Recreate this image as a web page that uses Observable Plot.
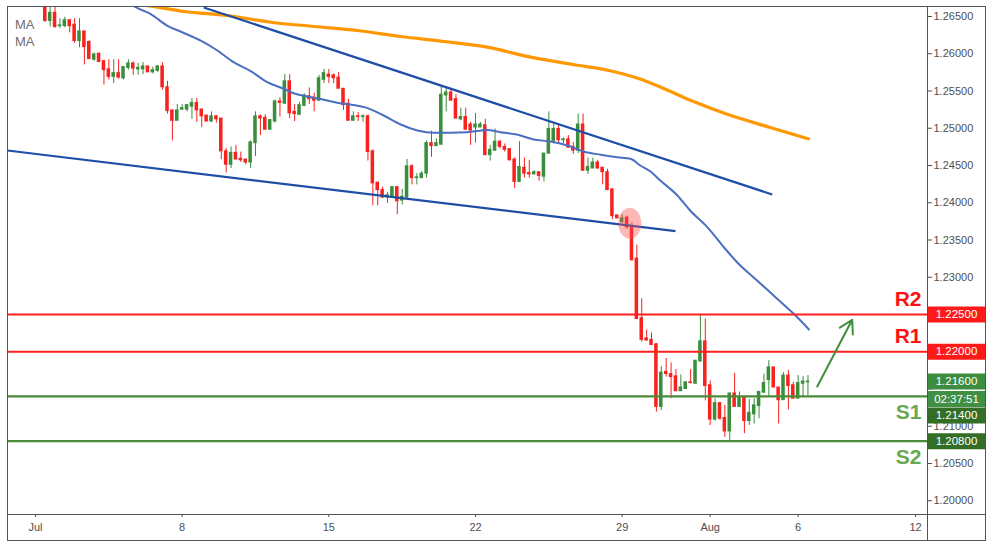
<!DOCTYPE html>
<html><head><meta charset="utf-8">
<script src="https://cdn.jsdelivr.net/npm/d3@7"></script>
<script src="https://cdn.jsdelivr.net/npm/@observablehq/plot@0.6"></script>
<style>
html,body{margin:0;padding:0;background:#fff;}
#wrap{position:relative;width:991px;height:546px;font-family:"Liberation Sans",Arial,sans-serif;}
#wrap svg{display:block;position:absolute;left:0;top:0;}
.ln{position:absolute;background:#50535e;}
.ma{position:absolute;left:15px;font-size:13px;color:#6f6f6f;line-height:13px;}
</style></head><body><div id="wrap"></div>
<script>
// ---- data (4-hour bars; bar 0 = Jul 1 00:00) ----
const firstBar = 2;
const opens = [
1.2667,1.2644,1.2655,1.2637,1.2637,1.2645,1.2639,1.2617,1.2630,1.2616,
1.2592,1.2600,1.2590,1.2579,1.2569,1.2574,1.2567,1.2581,1.2587,1.2579,
1.2579,1.2583,1.2575,1.2577,1.2583,1.2555,1.2524,1.2510,1.2525,1.2525,
1.2529,1.2534,1.2525,1.2517,1.2509,1.2516,1.2513,1.2469,1.2451,1.2467,
1.2459,1.2458,1.2454,1.2480,1.2516,1.2514,1.2498,1.2509,1.2536,1.2533,
1.2563,1.2522,1.2518,1.2530,1.2543,1.2541,1.2537,1.2565,1.2572,1.2571,
1.2568,1.2553,1.2533,1.2510,1.2516,1.2515,1.2516,1.2469,1.2427,1.2417,
1.2407,1.2407,1.2421,1.2403,1.2407,1.2449,1.2433,1.2433,1.2439,1.2480,
1.2476,1.2478,1.2544,1.2548,1.2539,1.2512,1.2515,1.2505,1.2501,1.2501,
1.2504,1.2464,1.2470,1.2482,1.2475,1.2472,1.2458,1.2428,1.2447,1.2440,
1.2438,1.2441,1.2435,1.2466,1.2483,1.2499,1.2484,1.2485,1.2475,1.2470,
1.2505,1.2443,1.2446,1.2454,1.2447,1.2441,1.2418,1.2383,1.2374,1.2380,
1.2367,1.2325,1.2245,1.2218,1.2216,1.2210,1.2126,1.2173,1.2170,1.2167,
1.2147,1.2150,1.2159,1.2157,1.2187,1.2214,1.2155,1.2109,1.2131,1.2111,
1.2093,1.2144,1.2126,1.2139,1.2107,1.2116,1.2127,1.2145,1.2162,1.2179,
1.2152,1.2135,1.2168,1.2155,1.2137,1.2157,1.2159];
const highs = [
1.2672,1.2662,1.2662,1.2647,1.2649,1.2645,1.2647,1.2647,1.2630,1.2617,
1.2601,1.2601,1.2591,1.2592,1.2592,1.2592,1.2583,1.2592,1.2589,1.2587,
1.2588,1.2583,1.2582,1.2584,1.2588,1.2563,1.2524,1.2532,1.2532,1.2531,
1.2540,1.2540,1.2526,1.2517,1.2522,1.2517,1.2513,1.2473,1.2475,1.2477,
1.2468,1.2458,1.2483,1.2522,1.2518,1.2518,1.2511,1.2538,1.2541,1.2572,
1.2572,1.2532,1.2535,1.2546,1.2554,1.2547,1.2571,1.2579,1.2579,1.2573,
1.2575,1.2553,1.2539,1.2522,1.2521,1.2518,1.2518,1.2471,1.2427,1.2421,
1.2414,1.2421,1.2421,1.2418,1.2458,1.2451,1.2439,1.2442,1.2483,1.2496,
1.2486,1.2557,1.2555,1.2552,1.2545,1.2527,1.2527,1.2508,1.2520,1.2508,
1.2512,1.2477,1.2499,1.2483,1.2479,1.2472,1.2460,1.2482,1.2460,1.2457,
1.2443,1.2441,1.2466,1.2522,1.2506,1.2504,1.2487,1.2490,1.2481,1.2519,
1.2519,1.2460,1.2460,1.2457,1.2447,1.2445,1.2418,1.2383,1.2384,1.2382,
1.2373,1.2343,1.2271,1.2229,1.2225,1.2211,1.2180,1.2191,1.2185,1.2176,
1.2169,1.2159,1.2176,1.2188,1.2249,1.2244,1.2161,1.2137,1.2132,1.2128,
1.2144,1.2171,1.2146,1.2139,1.2136,1.2137,1.2147,1.2170,1.2188,1.2179,
1.2152,1.2172,1.2175,1.2159,1.2168,1.2167,1.2168];
const lows = [
1.2642,1.2636,1.2634,1.2634,1.2635,1.2628,1.2614,1.2608,1.2585,1.2592,
1.2590,1.2588,1.2558,1.2565,1.2560,1.2566,1.2565,1.2578,1.2571,1.2571,
1.2572,1.2575,1.2573,1.2575,1.2551,1.2519,1.2483,1.2510,1.2524,1.2522,
1.2512,1.2508,1.2501,1.2509,1.2508,1.2507,1.2458,1.2440,1.2446,1.2458,
1.2454,1.2451,1.2446,1.2462,1.2490,1.2498,1.2498,1.2507,1.2515,1.2532,
1.2513,1.2509,1.2518,1.2530,1.2532,1.2522,1.2536,1.2560,1.2560,1.2560,
1.2553,1.2524,1.2510,1.2510,1.2509,1.2508,1.2456,1.2396,1.2396,1.2406,
1.2399,1.2407,1.2384,1.2397,1.2406,1.2424,1.2424,1.2433,1.2433,1.2461,
1.2476,1.2477,1.2522,1.2537,1.2513,1.2510,1.2497,1.2477,1.2480,1.2501,
1.2463,1.2456,1.2469,1.2472,1.2468,1.2456,1.2419,1.2427,1.2433,1.2433,
1.2438,1.2429,1.2428,1.2465,1.2479,1.2479,1.2479,1.2473,1.2465,1.2466,
1.2442,1.2438,1.2446,1.2445,1.2424,1.2417,1.2377,1.2379,1.2372,1.2364,
1.2321,1.2243,1.2213,1.2215,1.2209,1.2119,1.2121,1.2166,1.2137,1.2147,
1.2147,1.2150,1.2157,1.2157,1.2186,1.2134,1.2101,1.2107,1.2108,1.2085,
1.2080,1.2126,1.2126,1.2090,1.2101,1.2103,1.2110,1.2145,1.2139,1.2152,
1.2103,1.2135,1.2122,1.2137,1.2137,1.2139,1.2141];
const closes = [
1.2644,1.2655,1.2636,1.2638,1.2645,1.2637,1.2617,1.2630,1.2609,1.2593,
1.2599,1.2589,1.2578,1.2569,1.2574,1.2568,1.2582,1.2587,1.2580,1.2581,
1.2583,1.2575,1.2578,1.2583,1.2555,1.2523,1.2510,1.2524,1.2527,1.2531,
1.2534,1.2524,1.2516,1.2509,1.2516,1.2512,1.2469,1.2451,1.2467,1.2458,
1.2457,1.2454,1.2481,1.2516,1.2513,1.2498,1.2511,1.2536,1.2534,1.2563,
1.2520,1.2519,1.2531,1.2544,1.2539,1.2537,1.2567,1.2574,1.2569,1.2567,
1.2553,1.2531,1.2510,1.2516,1.2515,1.2516,1.2468,1.2426,1.2417,1.2407,
1.2410,1.2421,1.2402,1.2408,1.2449,1.2433,1.2434,1.2439,1.2480,1.2476,
1.2480,1.2545,1.2548,1.2537,1.2513,1.2515,1.2498,1.2497,1.2505,1.2505,
1.2464,1.2471,1.2482,1.2475,1.2471,1.2457,1.2428,1.2448,1.2439,1.2438,
1.2441,1.2436,1.2466,1.2499,1.2499,1.2484,1.2485,1.2474,1.2470,1.2505,
1.2443,1.2448,1.2454,1.2446,1.2441,1.2417,1.2382,1.2379,1.2379,1.2367,
1.2323,1.2244,1.2216,1.2215,1.2209,1.2126,1.2172,1.2170,1.2166,1.2147,
1.2152,1.2159,1.2158,1.2188,1.2214,1.2154,1.2109,1.2131,1.2110,1.2093,
1.2144,1.2126,1.2139,1.2107,1.2118,1.2128,1.2146,1.2158,1.2179,1.2152,
1.2135,1.2168,1.2154,1.2137,1.2158,1.2160,1.2160];

// moving averages
const maBlueBars = [18.6,20.5,23.5,26.9,30.0,33.7,37.2,40.5,44.0,47.4,50.8,52.8,55.6,59.0,61.7,64.4,67.8,71.2,74.7,78.1,81.5,88.3,92.4,95.1,98.5,101.9,105.3,108.8,112.1,115.6,119.0,121.7,123.7,125.8,127.8,131.3,133.9,137.4,140.8,143.5,147.6,151.7,155.1,158.2];
const maBlueVals = [1.26715,1.26625,1.26536,1.26379,1.26289,1.26178,1.26044,1.25887,1.25768,1.25618,1.25530,1.25470,1.25426,1.25382,1.25342,1.25319,1.25274,1.25171,1.25050,1.24970,1.24939,1.24947,1.24977,1.24947,1.24916,1.24849,1.24822,1.24768,1.24688,1.24644,1.24611,1.24590,1.24500,1.24419,1.24299,1.24097,1.23896,1.23672,1.23403,1.23202,1.22956,1.22711,1.22509,1.22299];
const maOrangeBars = [17.4,25.0,30.4,39.2,48.1,57.0,65.8,74.7,83.6,92.4,101.3,110.2,117.3,123.5,127.9,134.1,141.2,150.1,158.1];
const maOrangeVals = [1.26701,1.26625,1.26567,1.26513,1.26423,1.26366,1.26312,1.26232,1.26164,1.26088,1.25954,1.25852,1.25775,1.25664,1.25551,1.25372,1.25194,1.25014,1.24858];

// trend lines (start bar, start price, end bar, end price)
const trendStartBars = [34.4, -5.73];
const trendStartVals = [1.26621, 1.24701];
const trendEndBars = [150.7, 130.9];
const trendEndVals = [1.24111, 1.23618];

// support / resistance
const levelNames = ["R2", "R1", "S1", "S2"];
const levelValues = [1.225, 1.220, 1.214, 1.208];

// price-scale tags
const tagValues = [1.225, 1.220, 1.216, 1.216, 1.214, 1.208];
const tagLabels = ["1.22500", "1.22000", "1.21600", "02:37:51", "1.21400", "1.20800"];

// highlight + arrow
const markBar = [121.56], markVal = [1.23725];
const arrowFromBar = [159.9], arrowFromVal = [1.21533], arrowToBar = [167.05], arrowToVal = [1.22429];

// axes
const priceTicks = [1.200,1.205,1.210,1.215,1.220,1.225,1.230,1.235,1.240,1.245,1.250,1.255,1.260,1.265];
const coveredPriceTicks = [1.215, 1.220, 1.225]; // labels hidden under the price tags
const tickBars = [0, 30, 60, 90, 120, 138, 156, 180];
const tickLabels = ["Jul", "8", "15", "22", "29", "Aug", "6", "12"];

// ---- styles / layout ----
const RED = "#f7211e", GREEN = "#388e3c";
const levelColors = ["#ff1f1f", "#ff1f1f", "#4b8a37", "#4b8a37"];
const levelTextColors = ["#ff1111", "#ff1111", "#6aa84f", "#6aa84f"];
const tagColors = ["#ff1a1a", "#ff1a1a", "#3d8d3f", "#3f8f45", "#346d25", "#346d25"];
const tagShift = [0, 0, 0, 17.5, 19, 0];
const xDomain = [-5.727, 182.45];
const yDomain = [1.198154, 1.266342];

const bars = opens.map((o, j) => ({bar: firstBar + j, o, h: highs[j], l: lows[j], c: closes[j]}));
const up = d => d.c >= d.o;
const blue = maBlueBars.map((b, j) => ({b, v: maBlueVals[j]}));
const orange = maOrangeBars.map((b, j) => ({b, v: maOrangeVals[j]}));
const trends = trendStartBars.map((b, j) => ({b1: b, v1: trendStartVals[j], b2: trendEndBars[j], v2: trendEndVals[j]}));
const levels = levelNames.map((n, j) => ({n, v: levelValues[j], c: levelColors[j], t: levelTextColors[j]}));
const tags = tagValues.map((v, j) => ({v, label: tagLabels[j], fill: tagColors[j], shift: tagShift[j]}));

const ellipseSymbol = {draw(ctx) {
  const rx = 11.5, ry = 15.5, k = 0.5523;
  ctx.moveTo(rx, 0);
  ctx.bezierCurveTo(rx, ry * k, rx * k, ry, 0, ry);
  ctx.bezierCurveTo(-rx * k, ry, -rx, ry * k, -rx, 0);
  ctx.bezierCurveTo(-rx, -ry * k, -rx * k, -ry, 0, -ry);
  ctx.bezierCurveTo(rx * k, -ry, rx, -ry * k, rx, 0);
  ctx.closePath();
}};
const boxSymbol = {draw(ctx) { ctx.rect(-29, -8, 58, 16); }};

const FONT = "Liberation Sans, Arial, sans-serif";
const marks = [
  Plot.ruleX(bars, {x: "bar", y1: "l", y2: "h", stroke: d => up(d) ? GREEN : RED, strokeWidth: 1, clip: true}),
  Plot.rect(bars, {x1: d => d.bar - 0.36, x2: d => d.bar + 0.36, y1: d => Math.min(d.o, d.c), y2: d => Math.max(d.o, d.c),
    fill: d => up(d) ? GREEN : RED, insetTop: -0.5, insetBottom: -0.5, clip: true}),
  Plot.line(orange, {x: "b", y: "v", stroke: "#ff9800", strokeWidth: 3.2, curve: "monotone-x", clip: true}),
  Plot.line(blue, {x: "b", y: "v", stroke: "#4a6fc1", strokeWidth: 2, curve: "monotone-x", clip: true}),
  Plot.link(trends, {x1: "b1", y1: "v1", x2: "b2", y2: "v2", stroke: "#1f4ea6", strokeWidth: 2.2, clip: true}),
  Plot.ruleY(levels, {y: "v", stroke: "c", strokeWidth: 2.2}),
  Plot.dot(markBar.map((b, j) => ({b, v: markVal[j]})), {x: "b", y: "v", symbol: ellipseSymbol, fill: "#ff4d4d", fillOpacity: 0.4, stroke: "none"}),
  Plot.arrow(arrowFromBar.map((b, j) => ({b1: b, v1: arrowFromVal[j], b2: arrowToBar[j], v2: arrowToVal[j]})),
    {x1: "b1", y1: "v1", x2: "b2", y2: "v2", stroke: "#3f8f3a", strokeWidth: 2, headLength: 11}),
  Plot.text(levels.filter(d => d.n[0] === "R"), {y: "v", text: "n", frameAnchor: "right", dx: -6, dy: -15, textAnchor: "end",
    fill: "t", fontSize: 21, fontWeight: "bold", fontFamily: FONT}),
  Plot.text(levels.filter(d => d.n[0] === "S"), {y: "v", text: "n", frameAnchor: "right", dx: -6, dy: 16, textAnchor: "end",
    fill: "t", fontSize: 21, fontWeight: "bold", fontFamily: FONT}),
  Plot.axisY(priceTicks, {anchor: "right", tickSize: 4, tickPadding: 2,
    tickFormat: d => coveredPriceTicks.includes(d) ? "" : d.toFixed(5), fontSize: 11,
    color: "#4f4f4f", label: null, fontFamily: FONT}),
  Plot.axisX(tickBars, {anchor: "bottom", tickSize: 3, tickPadding: 6, tickFormat: d => tickLabels[tickBars.indexOf(d)],
    fontSize: 11, color: "#4f4f4f", label: null, fontFamily: FONT}),
  ...tags.map(t => Plot.dot([t], {y: "v", frameAnchor: "right", dx: 29, dy: t.shift, symbol: boxSymbol, fill: t.fill, stroke: "none"})),
  ...tags.map(t => Plot.text([t], {y: "v", text: "label", frameAnchor: "right", dx: 29, dy: t.shift, fill: "white",
    fontSize: 11.5, fontFamily: FONT, textAnchor: "middle"})),
  Plot.frame({stroke: "#50535e"})
];

const chart = Plot.plot({
  width: 991, height: 546,
  marginTop: 6, marginRight: 64, marginBottom: 32, marginLeft: 7,
  x: {domain: xDomain},
  y: {domain: yDomain},
  style: {fontFamily: FONT, background: "transparent", overflow: "visible"},
  marks
});
const wrap = document.getElementById("wrap");
wrap.appendChild(chart);
const add = (css, cls, txt) => { const d = document.createElement("div"); d.className = cls; d.style.cssText = css; if (txt) d.textContent = txt; wrap.appendChild(d); };
add("left:7px;top:6px;width:1px;height:535px;", "ln");
add("left:7px;top:6px;width:979px;height:1px;", "ln");
add("left:985px;top:6px;width:1px;height:535px;", "ln");
add("left:7px;top:540px;width:979px;height:1px;", "ln");
add("left:927px;top:6px;width:1px;height:535px;", "ln");
add("left:7px;top:514px;width:979px;height:1px;", "ln");
add("top:18px;", "ma", "MA");
add("top:35px;", "ma", "MA");
</script>
</body></html>
